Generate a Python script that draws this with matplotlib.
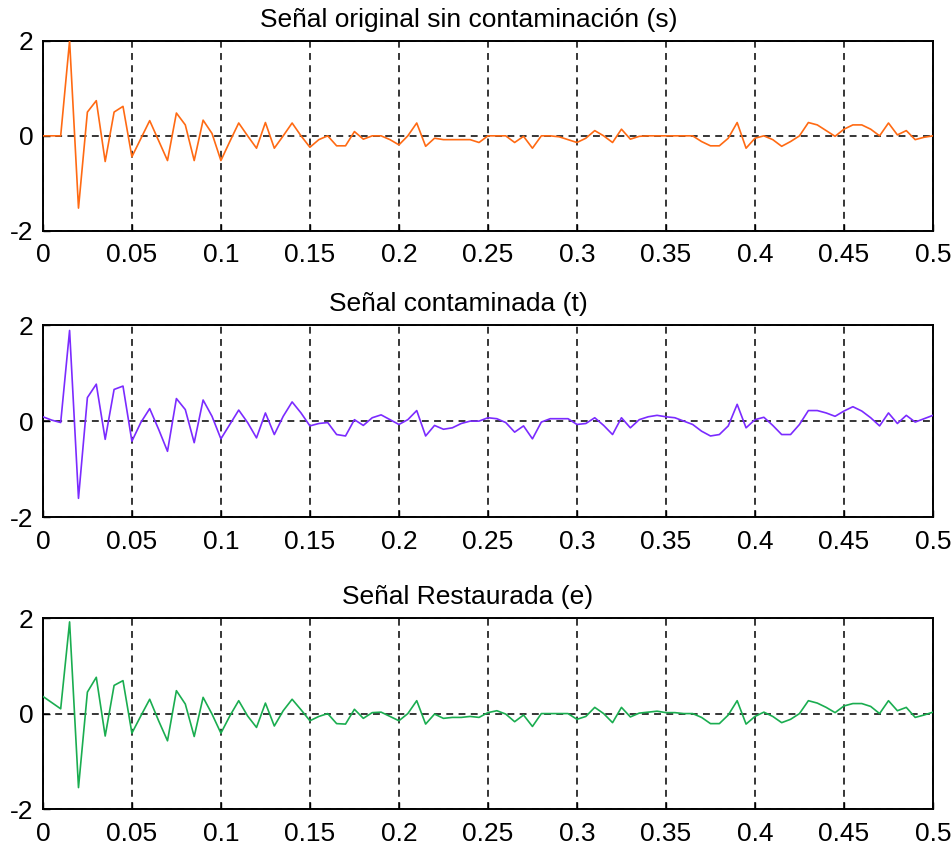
import numpy as np
import matplotlib
matplotlib.use("Agg")
import matplotlib.pyplot as plt

plt.rcParams['font.family'] = ['Liberation Sans', 'DejaVu Sans']
plt.rcParams['axes.unicode_minus'] = False

# time axis, 0.005 s steps
t = np.arange(101) * 0.005

# original signal (s)
s = [0, 0, 0, 2.0, -1.52, 0.5, 0.74, -0.54, 0.5, 0.62,
     -0.44, -0.06, 0.32, -0.1, -0.52, 0.48, 0.23, -0.52, 0.33, 0.05,
     -0.52, -0.12, 0.27, 0.0, -0.26, 0.28, -0.26, 0.0, 0.27, 0.0,
     -0.24, -0.08, 0.0, -0.21, -0.21, 0.09, -0.07, 0.0, 0.0, -0.08,
     -0.19, 0.0, 0.27, -0.22, -0.05, -0.08, -0.08, -0.08, -0.08, -0.14,
     0.0, 0.0, 0.0, -0.14, -0.01, -0.26, 0.0, 0.0, -0.02, -0.08,
     -0.14, -0.05, 0.11, 0.0, -0.14, 0.14, -0.07, -0.01, 0.0, 0.0,
     0.0, 0.0, 0.0, 0.0, -0.12, -0.21, -0.21, -0.05, 0.28, -0.26,
     -0.05, 0.0, -0.08, -0.22, -0.12, 0.0, 0.28, 0.23, 0.11, -0.01,
     0.14, 0.23, 0.23, 0.14, 0.0, 0.27, 0.02, 0.11, -0.08, -0.03,
     0.0]

# contaminated signal (t)
tc = [0.09, 0.02, -0.03, 1.89, -1.61, 0.49, 0.77, -0.38, 0.66, 0.73,
      -0.42, -0.03, 0.26, -0.17, -0.63, 0.47, 0.24, -0.45, 0.44, 0.1,
      -0.37, -0.07, 0.23, -0.03, -0.35, 0.17, -0.28, 0.1, 0.4, 0.17,
      -0.1, -0.05, -0.03, -0.28, -0.31, 0.03, -0.09, 0.07, 0.13, 0.03,
      -0.07, 0.03, 0.22, -0.31, -0.09, -0.17, -0.14, -0.05, 0.0, 0.0,
      0.07, 0.05, -0.03, -0.23, -0.1, -0.37, -0.02, 0.05, 0.05, 0.05,
      -0.07, -0.05, 0.07, -0.09, -0.28, 0.07, -0.14, 0.03, 0.09, 0.12,
      0.09, 0.07, 0.0, -0.07, -0.21, -0.31, -0.28, -0.1, 0.35, -0.14,
      0.03, 0.08, -0.09, -0.28, -0.28, -0.07, 0.22, 0.22, 0.17, 0.1,
      0.21, 0.3, 0.21, 0.07, -0.1, 0.17, -0.05, 0.12, -0.02, 0.05,
      0.12]

# restored signal (e)
e = [0.36, 0.23, 0.1, 1.92, -1.55, 0.45, 0.76, -0.47, 0.59, 0.69,
     -0.41, -0.05, 0.3, -0.15, -0.57, 0.48, 0.2, -0.48, 0.34, -0.01,
     -0.41, -0.05, 0.27, -0.05, -0.29, 0.22, -0.26, 0.06, 0.3, 0.08,
     -0.15, -0.06, 0.0, -0.21, -0.22, 0.09, -0.1, 0.02, 0.03, -0.06,
     -0.15, 0.0, 0.27, -0.22, -0.01, -0.1, -0.08, -0.08, -0.06, -0.08,
     0.02, 0.06, -0.01, -0.17, -0.03, -0.27, 0.0, 0.0, 0.0, 0.0,
     -0.12, -0.06, 0.13, 0.0, -0.19, 0.13, -0.07, 0.01, 0.03, 0.05,
     0.02, 0.02, 0.0, 0.0, -0.08, -0.21, -0.21, -0.03, 0.27, -0.22,
     -0.06, 0.03, -0.06, -0.19, -0.12, 0.0, 0.27, 0.22, 0.13, 0.02,
     0.16, 0.21, 0.21, 0.15, 0.0, 0.27, 0.06, 0.13, -0.08, -0.03,
     0.03]

titles = ["Señal original sin contaminación (s)",
          "Señal contaminada (t)",
          "Señal Restaurada (e)"]
colors = ["#ff6a13", "#7b2bff", "#1aad50"]
xticks = [0, 0.05, 0.1, 0.15, 0.2, 0.25, 0.3, 0.35, 0.4, 0.45, 0.5]
xticklabels = ["0", "0.05", "0.1", "0.15", "0.2", "0.25", "0.3", "0.35", "0.4", "0.45", "0.5"]
yticks = [-2, 0, 2]
yticklabels = ["-2", "0", "2"]

fig = plt.figure(figsize=(9.53, 8.49), dpi=100)
# [left, bottom, width, height] in figure fractions
boxes = [[0.045, 0.728, 0.934, 0.224],
         [0.045, 0.391, 0.934, 0.226],
         [0.045, 0.047, 0.934, 0.225]]
title_x = [0.479, 0.467, 0.477]

for box, y, ttl, col, tx in zip(boxes, [s, tc, e], titles, colors, title_x):
    ax = fig.add_axes(box)
    ax.plot(t, y, color=col, lw=1.2, zorder=3)
    ax.set_xlim(0, 0.5)
    ax.set_ylim(-2, 2)
    ax.set_xticks(xticks)
    ax.set_xticklabels(xticklabels)
    ax.set_yticks(yticks)
    ax.set_yticklabels(yticklabels)
    ax.grid(True, color="black", linestyle=(0, (4.5, 3.5)), linewidth=1.1)
    ax.tick_params(axis="x", direction="in", length=5, width=1, labelsize=19, pad=9)
    ax.tick_params(axis="y", direction="in", length=5, width=1, labelsize=19, pad=7)
    for sp in ax.spines.values():
        sp.set_linewidth(1.4)
    ax.set_title(ttl, fontsize=19, pad=10, x=tx)

fig.savefig("out.png", dpi=100)
